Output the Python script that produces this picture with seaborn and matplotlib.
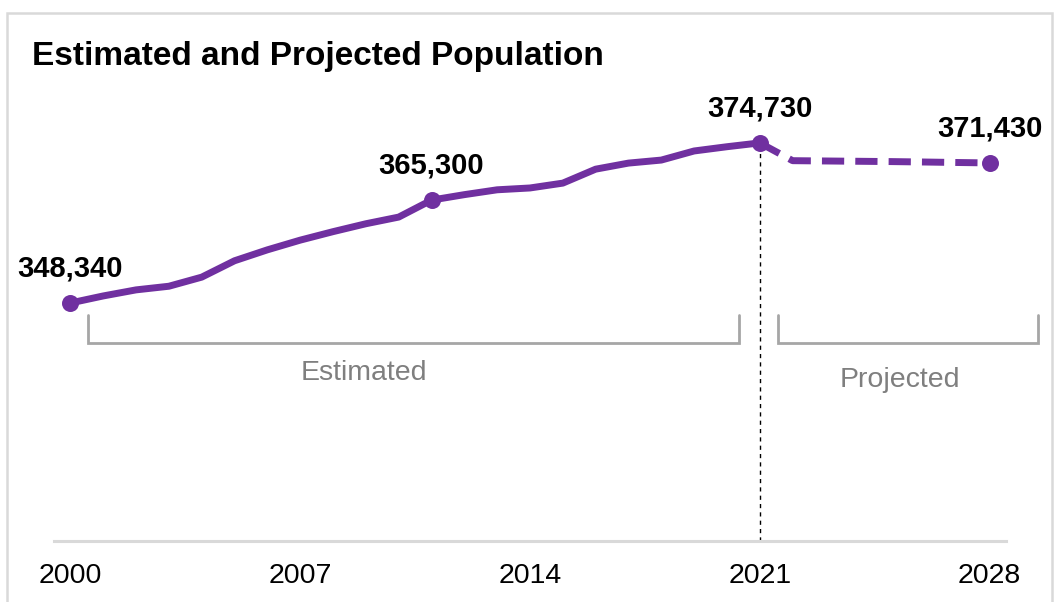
import numpy as np
import pandas as pd
import matplotlib
matplotlib.use("Agg")
import matplotlib.pyplot as plt
from matplotlib.patches import Rectangle
import seaborn as sns

# ---- data ----
years_est = list(range(2000, 2022))
pop_est = [348340, 349500, 350500, 351100, 352600, 355300, 357100, 358700,
           360100, 361400, 362500, 365300, 366200, 367000, 367300, 368100,
           370400, 371400, 371900, 373400, 374100, 374730]
years_proj = list(range(2021, 2029))
pop_proj = [374730, 371800, 371750, 371700, 371650, 371580, 371500, 371430]
label_years = [2000, 2011, 2021, 2028]
label_values = [348340, 365300, 374730, 371430]
tick_years = [2000, 2007, 2014, 2021, 2028]
title = "Estimated and Projected Population"
seg_labels = ["Estimated", "Projected"]

sns.set_theme(style="white")
plt.rcParams['font.family'] = ['Liberation Sans', 'DejaVu Sans']

PURPLE = "#7030A0"
W, H = 1064, 602
fig = plt.figure(figsize=(W / 100, H / 100), dpi=100)
ax = fig.add_axes([54 / W, 1 - 541 / H, 952 / W, (541 - 80) / H])

df_est = pd.DataFrame({"year": years_est, "pop": pop_est})
df_proj = pd.DataFrame({"year": years_proj, "pop": pop_proj})
df_lab = pd.DataFrame({"year": label_years, "pop": label_values})

sns.lineplot(data=df_est, x="year", y="pop", ax=ax, color=PURPLE, linewidth=5,
             solid_capstyle="round", solid_joinstyle="round")
sns.lineplot(data=df_proj, x="year", y="pop", ax=ax, color=PURPLE, linewidth=5,
             linestyle=(0, (3.2, 1.6)))
sns.scatterplot(data=df_lab, x="year", y="pop", ax=ax, color=PURPLE, s=150,
                edgecolor=PURPLE, linewidth=0, zorder=5)

ylo, yhi = 309100, 385100
ax.set_xlim(1999.5, 2028.5)
ax.set_ylim(ylo, yhi)

# vertical divider at 2021
ax.vlines(2021, ylo, label_values[2], color="black", lw=1,
          linestyle=(0, (3, 3)), zorder=1)

for yr, v in zip(label_years, label_values):
    ax.annotate(f"{v:,}", (yr, v), xytext=(0, 25), textcoords="offset points",
                ha="center", va="center", fontsize=21, fontweight="bold",
                color="black")

# brackets
BR = "#a6a6a6"
def bracket(x0, x1, ytop, ybot):
    ax.plot([x0, x0, x1, x1], [ytop, ybot, ybot, ytop], color=BR, lw=2,
            clip_on=False, solid_joinstyle="miter")

bracket(2000.53, 2020.37, 346360, 341740)
bracket(2021.56, 2029.48, 346360, 341740)
ax.text(2008.94, 336800, seg_labels[0], ha="center", va="center",
        fontsize=20.5, color="#7f7f7f")
ax.text(2025.27, 335640, seg_labels[1], ha="center", va="center",
        fontsize=20.5, color="#7f7f7f")

ax.set_xticks(tick_years)
ax.set_xticklabels([str(t) for t in tick_years])
ax.set_yticks([])
ax.tick_params(axis="x", length=0, pad=16, labelsize=20.5, labelcolor="black")
ax.set_xlabel("")
ax.set_ylabel("")
for s in ["top", "right", "left"]:
    ax.spines[s].set_visible(False)
ax.spines["bottom"].set_color("#d9d9d9")
ax.spines["bottom"].set_linewidth(2.2)

fig.text(32 / W, 1 - 65 / H, title, ha="left", va="baseline", fontsize=24,
         fontweight="bold", color="black")

fig.patches.append(Rectangle((7 / W, -0.05), (1052 - 7) / W, 1.05 - 13 / H,
                             transform=fig.transFigure, fill=False,
                             edgecolor="#d9d9d9", lw=1.8))

fig.savefig("out.png", dpi=100)
